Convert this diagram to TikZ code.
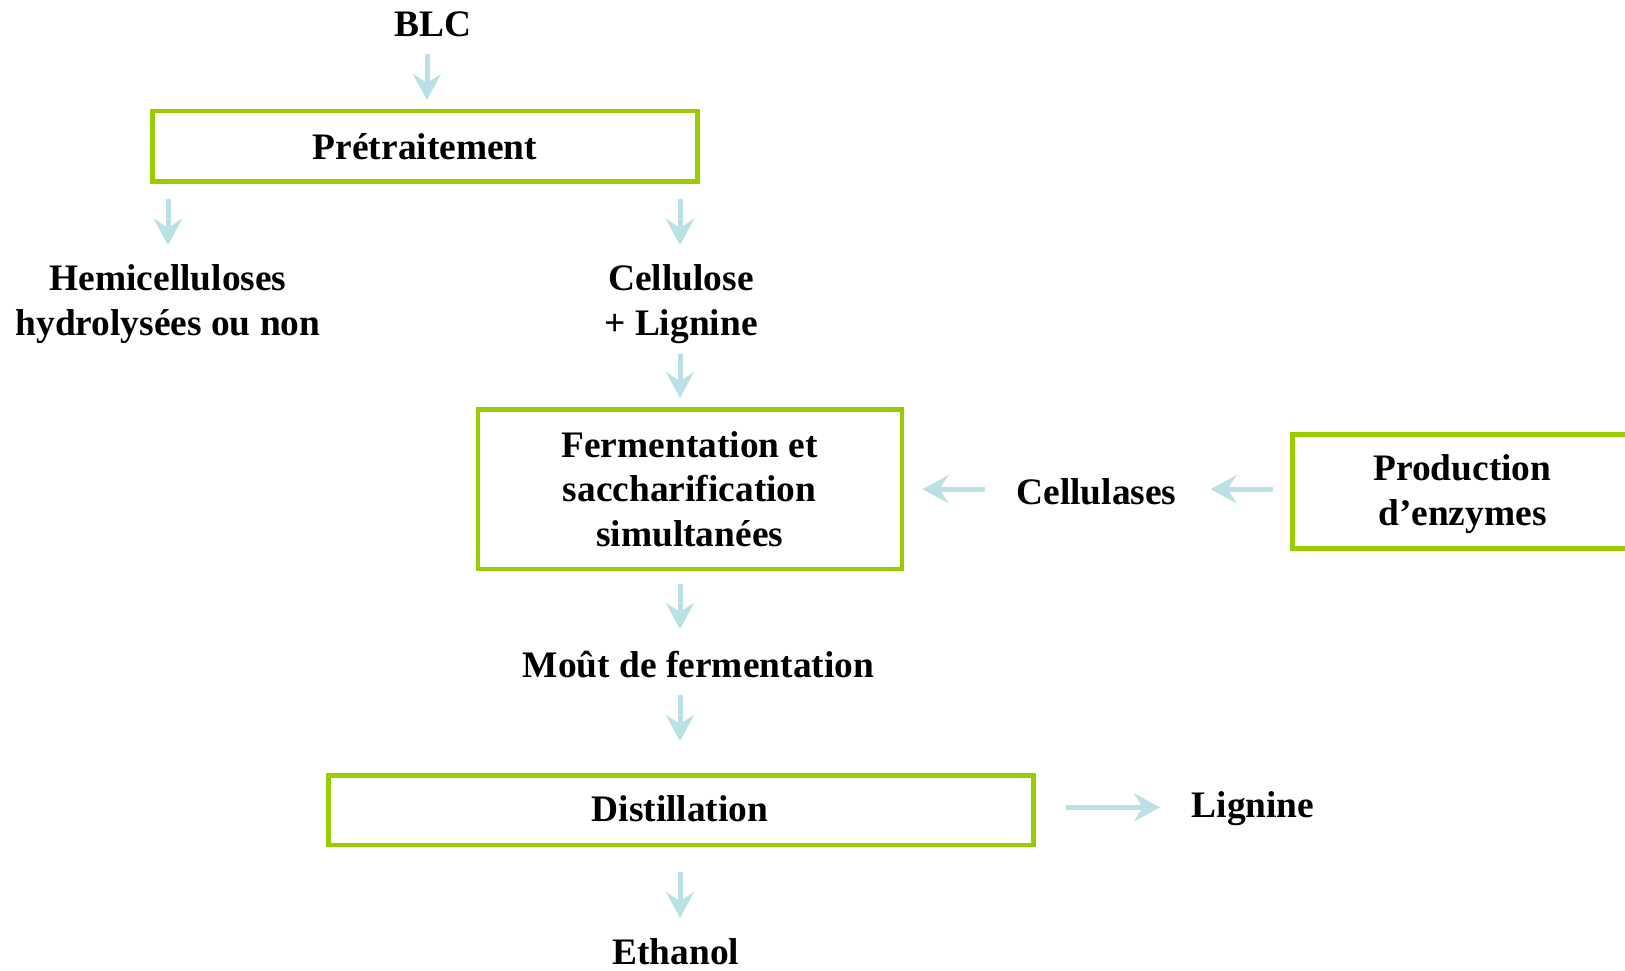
\documentclass[tikz,border=0pt]{standalone}
\usepackage{fontspec}
\setmainfont{Liberation Serif}
\usetikzlibrary{arrows.meta}
\definecolor{boxgreen}{HTML}{99CC00}
\definecolor{arrblue}{HTML}{B9E0E4}
\tikzset{
  lbl/.style={font=\bfseries\fontsize{18.7}{22.3}\selectfont, align=center, inner sep=0pt},
  procbox/.style={draw=boxgreen, line width=2.2pt, fill=white, minimum width=#1, inner sep=0pt},
  flow/.style={draw=arrblue, line width=2.5pt, -{Stealth[length=13pt, width=14pt, inset=4.5pt]}, shorten >=0pt}
}
\begin{document}
\begin{tikzpicture}[x=0.5pt,y=-0.5pt]
\useasboundingbox (0,0) rectangle (1625,970);
% boxes
\node[procbox=272.5pt, minimum height=35.2pt] (pre) at (425,146.2) {};
\node[lbl] at (pre.center) {Prétraitement};
\node[procbox=212pt, minimum height=79.8pt] (fss) at (689.7,489.2) {};
\node[lbl] at (fss.center) {Fermentation et\\saccharification\\simultanées};
\node[procbox=180pt, minimum height=57pt] (prod) at (1472.4,491.3) {};
\node[lbl] (prodt) at (1462.4,494) {Production\\d’enzymes};
\node[procbox=352.4pt, minimum height=34.7pt] (dist) at (680.9,810) {};
\node[lbl] at (680,808.4) {Distillation};
% labels
\node[lbl] (blc) at (433,24) {BLC};
\node[lbl] (hemi) at (168,304) {Hemicelluloses\\hydrolysées ou non};
\node[lbl] (cell) at (681,304) {Cellulose\\+ Lignine};
\node[lbl] (cellu) at (1096.5,491.3) {Cellulases};
\node[lbl] (mout) at (698.5,664.3) {Moût de fermentation};
\node[lbl] (lig) at (1253,809) {Lignine};
\node[lbl] (eth) at (675.7,951.4) {Ethanol};
% arrow anchors
\coordinate (a1s) at (427,54); \coordinate (a1e) at (427,100);
\coordinate (a2s) at (168,199); \coordinate (a2e) at (168,245);
\coordinate (a3s) at (680,199); \coordinate (a3e) at (680,245);
\coordinate (a4s) at (680,354); \coordinate (a4e) at (680,398);
\coordinate (a5s) at (984.6,489.2); \coordinate (a5e) at (922.4,489.2);
\coordinate (a6s) at (1272.7,489.2); \coordinate (a6e) at (1210.5,489.2);
\coordinate (a7s) at (680,583.5); \coordinate (a7e) at (680,629);
\coordinate (a8s) at (680,695.4); \coordinate (a8e) at (680,741);
\coordinate (a9s) at (1065.8,807.4); \coordinate (a9e) at (1160,807.4);
\coordinate (a10s) at (680,871.6); \coordinate (a10e) at (680,918);
\draw[flow] (a1s) -- (a1e);
\draw[flow] (a2s) -- (a2e);
\draw[flow] (a3s) -- (a3e);
\draw[flow] (a4s) -- (a4e);
\draw[flow] (a5s) -- (a5e);
\draw[flow] (a6s) -- (a6e);
\draw[flow] (a7s) -- (a7e);
\draw[flow] (a8s) -- (a8e);
\draw[flow] (a9s) -- (a9e);
\draw[flow] (a10s) -- (a10e);
\end{tikzpicture}
\end{document}
